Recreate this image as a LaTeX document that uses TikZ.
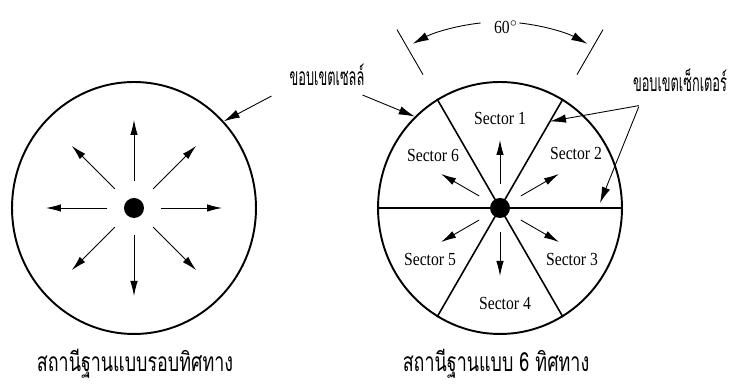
\documentclass[tikz,border=0pt]{standalone}
\usepackage{fontspec}
\setmainfont{Liberation Serif}
\newfontfamily\sectfont[FakeStretch=0.85]{Liberation Serif}
\newfontfamily\thailbl[Script=Thai,FakeStretch=0.52]{Loma}
\newfontfamily\thaicap[Script=Thai,FakeStretch=0.68]{Loma}
\usepackage{tikz}
\usetikzlibrary{arrows.meta,calc,shapes.geometric}
\tikzset{
  cell/.style={draw,line width=1.1pt,ellipse,inner sep=0pt,minimum width=4.88cm,minimum height=5.04cm},
  bs/.style={circle,fill,inner sep=0pt,minimum size=0.4cm},
  ray/.style={line width=0.5pt,-{Latex[length=3mm,width=1.5mm]}},
  pointer/.style={line width=0.5pt,-{Latex[length=3.2mm,width=1.7mm]}},
  divider/.style={line width=0.9pt},
  sectlbl/.style={font=\sectfont\fontsize{10.5}{12}\selectfont},
  thailbl/.style={font=\thailbl\fontsize{14}{16}\selectfont},
  thaicap/.style={font=\thaicap\fontsize{15}{17}\selectfont}
}

\begin{document}
\begin{tikzpicture}[x=0.02cm,y=0.02cm]
  \useasboundingbox (0,0) rectangle (736,384);
  % omnidirectional cell
  \node[cell] (cellOmni) at (134,176) {};
  \node[bs] (bsOmni) at (134,176) {};
  \foreach \a in {0,45,...,315}
    \draw[ray] ($(bsOmni)+(\a:27)$) -- ($(bsOmni)+(\a:88)$);
  % sectored cell
  \node[cell] (cellSect) at (500,176) {};
  \draw[divider] (cellSect.0) -- (cellSect.180);
  \draw[divider] (cellSect.60) -- (cellSect.240);
  \draw[divider] (cellSect.120) -- (cellSect.300);
  \node[bs] (bsSect) at (500,176) {};
  \foreach \a in {90,30,-30,-90,210,150}
    \draw[ray] ($(bsSect)+(\a:24)$) -- ($(bsSect)+(\a:68)$);
  \node[sectlbl] (sec1) at (500,266) {Sector 1};
  \node[sectlbl] (sec2) at (576,231) {Sector 2};
  \node[sectlbl] (sec3) at (572,125) {Sector 3};
  \node[sectlbl] (sec4) at (505,81) {Sector 4};
  \node[sectlbl] (sec5) at (430,125) {Sector 5};
  \node[sectlbl] (sec6) at (433,229) {Sector 6};
  % 60 degree opening
  \draw[line width=0.5pt] ($(bsSect)+(120:154)$) -- ($(bsSect)+(120:206)$);
  \draw[line width=0.5pt] ($(bsSect)+(60:154)$) -- ($(bsSect)+(60:206)$);
  \draw[pointer] ($(bsSect)+(96:186)$) arc[start angle=96,end angle=118,radius=186];
  \draw[pointer] ($(bsSect)+(84:186)$) arc[start angle=84,end angle=62,radius=186];
  \node[font=\sectfont\fontsize{10.5}{12}\selectfont] (ang) at (506,357) {60$^{\circ}$};
  % boundary labels
  \node[thailbl] (lblCell) at (327,309) {ขอบเขตเซลล์};
  \draw[pointer] ([shift={(-12,-4)}]lblCell.south west) -- (cellOmni.44);
  \draw[pointer] ([shift={(-8,-3)}]lblCell.south east) -- (cellSect.133);
  \node[thailbl] (lblSect) at (680,304) {ขอบเขตเซ็กเตอร์};
  \coordinate (tipA) at ($(bsSect)+(60:100)$);
  \coordinate (tipB) at ($(bsSect)+(100,5)$);
  \draw[pointer] ([shift={(12,-8)}]lblSect.south west) -- (tipA);
  \draw[pointer] ([shift={(12,-9)}]lblSect.south west) -- (tipB);
  % captions
  \node[thaicap] (capOmni) at (135,20) {สถานีฐานแบบรอบทิศทาง};
  \node[thaicap] (capSect) at (496,20) {สถานีฐานแบบ 6 ทิศทาง};
\end{tikzpicture}
\end{document}
